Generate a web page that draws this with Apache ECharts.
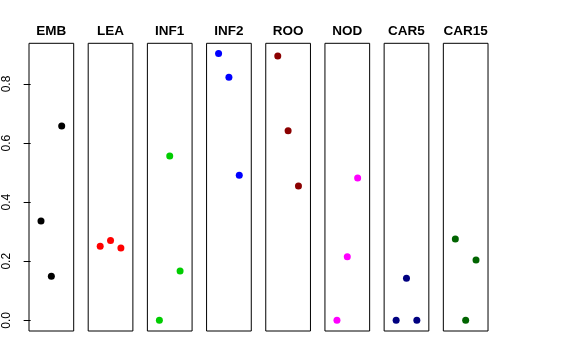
<!DOCTYPE html>
<html>
<head>
<meta charset="utf-8">
<script src="https://cdn.jsdelivr.net/npm/echarts@6/dist/echarts.min.js"></script>
<style>html,body{margin:0;padding:0;background:#fff}#c{width:576px;height:360px}</style>
</head>
<body>
<div id="c"></div>
<script>
const categories = ['EMB', 'LEA', 'INF1', 'INF2', 'ROO', 'NOD', 'CAR5', 'CAR15'];
const xPositions = [1, 2, 3];
const EMB = [0.336, 0.149, 0.658];
const LEA = [0.251, 0.270, 0.245];
const INF1 = [0.000, 0.556, 0.167];
const INF2 = [0.903, 0.823, 0.491];
const ROO = [0.895, 0.642, 0.455];
const NOD = [0.000, 0.215, 0.482];
const CAR5 = [0.000, 0.142, 0.000];
const CAR15 = [0.275, 0.000, 0.204];
const yTicks = [0, 0.2, 0.4, 0.6, 0.8];
const yTickLabels = ['0.0', '0.2', '0.4', '0.6', '0.8'];

const seriesValues = [EMB, LEA, INF1, INF2, ROO, NOD, CAR5, CAR15];
const colors = ['#000000', '#FF0000', '#00CD00', '#0000FF', '#8B0000', '#FF00FF', '#000080', '#006400'];

const panelLeft0 = 29, panelStep = 59.19, panelWidth = 44.7, panelTop = 43.3, panelHeight = 287.7;
const yMin = -0.0362, yMax = 0.9377;
const xMin = -0.16, xMax = 4.16;
const font = 'Liberation Sans, Arial, Helvetica, sans-serif';

const grids = [], xAxes = [], yAxes = [], series = [], titles = [];
categories.forEach((cat, i) => {
  const left = panelLeft0 + i * panelStep;
  grids.push({ left: left, top: panelTop, width: panelWidth, height: panelHeight,
    show: true, borderColor: '#000', borderWidth: 1, backgroundColor: 'transparent' });
  xAxes.push({ gridIndex: i, type: 'value', min: xMin, max: xMax, show: false });
  const isFirst = i === 0;
  yAxes.push({
    gridIndex: i, type: 'value', min: yMin, max: yMax, show: isFirst,
    axisLine: { show: false },
    splitLine: { show: false },
    axisTick: { show: isFirst, length: 7, lineStyle: { color: '#000', width: 1 }, customValues: yTicks },
    axisLabel: {
      show: isFirst, rotate: 90, margin: 16, fontSize: 12, color: '#000', fontFamily: font,
      customValues: yTicks,
      formatter: v => { const k = yTicks.findIndex(t => Math.abs(t - v) < 1e-9); return k >= 0 ? yTickLabels[k] : ''; }
    }
  });
  series.push({
    type: 'scatter', xAxisIndex: i, yAxisIndex: i,
    symbol: 'circle', symbolSize: 7,
    itemStyle: { color: colors[i], opacity: 1 },
    data: xPositions.map((x, k) => [x, seriesValues[i][k]]),
    silent: true, animation: false
  });
  titles.push({
    text: cat, left: left + panelWidth / 2, top: 24, padding: 0, textAlign: 'center',
    textStyle: { fontSize: 13.5, fontWeight: 'bold', color: '#000', fontFamily: font }
  });
});

const chart = echarts.init(document.getElementById('c'), null, { renderer: 'canvas' });
chart.setOption({
  animation: false,
  backgroundColor: '#fff',
  title: titles,
  grid: grids,
  xAxis: xAxes,
  yAxis: yAxes,
  series: series
});
</script>
</body>
</html>
